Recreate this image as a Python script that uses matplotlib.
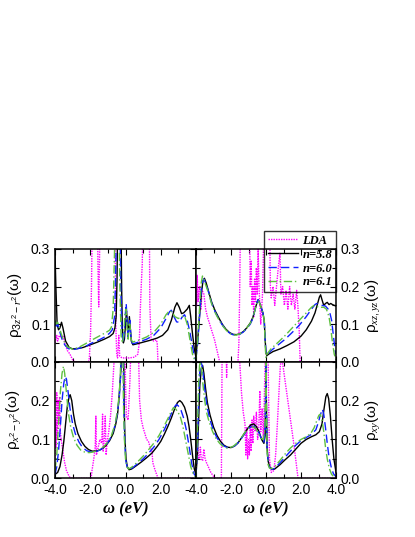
import numpy as np
import matplotlib
matplotlib.use('Agg')
import matplotlib.pyplot as plt
from matplotlib.ticker import MultipleLocator, FormatStrFormatter
from matplotlib.font_manager import FontProperties

plt.rcParams['font.family'] = ['Liberation Sans', 'DejaVu Sans']
plt.rcParams['mathtext.fontset'] = 'custom'
plt.rcParams['mathtext.rm'] = 'Liberation Sans'
plt.rcParams['mathtext.it'] = 'Liberation Serif:italic'
plt.rcParams['axes.unicode_minus'] = True

# ---- panel 3z^2-r^2 (top left) ----
tl_lda_x = [-4.0, -3.9, -3.85, -3.75, -3.65, -3.55, -3.45, -3.3, -3.15, -3.0, -2.9, -2.1, -2.05, -1.98, -1.93, -1.88,
            -1.6, -1.56, -1.52, -1.48, -1.44, -0.6, -0.55, -0.5, -0.45, -0.38, -0.33, -0.2, 0.2, 0.5, 0.7, 0.78,
            0.85, 0.9, 0.95, 1.0, 1.35, 1.38, 1.45, 1.6, 1.75, 1.8, 1.84, 4.0]
tl_lda_y = [0.05, 0.07, 0.055, 0.07, 0.065, 0.07, 0.05, 0.03, 0.02, 0.005, 0.0, 0.0, 0.01, 0.08, 0.2, 0.4,
            0.4, 0.25, 0.146, 0.25, 0.4, 0.4, 0.1, 0.02, 0.01, 0.07, 0.015, 0.01, 0.01, 0.012, 0.02, 0.05,
            0.15, 0.21, 0.26, 0.4, 0.4, 0.15, 0.06, 0.055, 0.058, 0.05, 0.0, 0.0]
tl_b58_x = [-4.0, -3.95, -3.88, -3.8, -3.72, -3.63, -3.55, -3.4, -3.2, -3.0, -2.7, -2.4, -2.0, -1.6, -1.2, -0.9,
            -0.7, -0.6, -0.53, -0.48, -0.44, -0.26, -0.22, -0.18, -0.12, -0.06, 0.0, 0.06, 0.12, 0.17, 0.22, 0.27,
            0.33, 0.42, 0.6, 1.0, 1.4, 1.8, 2.1, 2.4, 2.6, 2.8, 2.92, 3.05, 3.18, 3.3, 3.5, 3.62, 3.7, 3.8,
            3.9, 3.98]
tl_b58_y = [0.29, 0.2, 0.1, 0.085, 0.09, 0.105, 0.09, 0.055, 0.038, 0.034, 0.035, 0.038, 0.045, 0.052, 0.06, 0.067,
            0.075, 0.09, 0.12, 0.22, 0.4, 0.4, 0.2, 0.09, 0.05, 0.06, 0.1, 0.135, 0.09, 0.08, 0.12, 0.09,
            0.055, 0.045, 0.047, 0.052, 0.057, 0.063, 0.07, 0.085, 0.11, 0.145, 0.157, 0.145, 0.128, 0.13, 0.14, 0.15, 0.12, 0.075,
            0.035, 0.016]
tl_b60_x = [-4.0, -3.92, -3.85, -3.78, -3.7, -3.6, -3.45, -3.25, -3.0, -2.7, -2.3, -1.9, -1.5, -1.1, -0.9, -0.75,
            -0.62, -0.55, -0.5, -0.32, -0.27, -0.2, -0.14, -0.08, -0.02, 0.04, 0.1, 0.15, 0.2, 0.25, 0.3, 0.37,
            0.45, 0.8, 1.2, 1.6, 2.0, 2.3, 2.5, 2.6, 2.75, 2.9, 3.05, 3.2, 3.35, 3.5, 3.65, 3.8, 3.92, 4.0]
tl_b60_y = [0.1, 0.095, 0.1, 0.09, 0.075, 0.06, 0.045, 0.035, 0.032, 0.035, 0.04, 0.05, 0.058, 0.068, 0.076, 0.085,
            0.12, 0.25, 0.4, 0.4, 0.2, 0.08, 0.05, 0.07, 0.12, 0.155, 0.1, 0.06, 0.1, 0.11, 0.07, 0.05,
            0.048, 0.053, 0.06, 0.07, 0.09, 0.115, 0.133, 0.137, 0.12, 0.106, 0.105, 0.118, 0.125, 0.11, 0.08, 0.04, 0.01, 0.005]
tl_b61_x = [-4.0, -3.93, -3.85, -3.75, -3.65, -3.5, -3.3, -3.05, -2.7, -2.3, -1.9, -1.5, -1.1, -0.9, -0.8, -0.7,
            -0.62, -0.58, -0.38, -0.32, -0.25, -0.18, -0.1, -0.03, 0.03, 0.1, 0.15, 0.2, 0.25, 0.32, 0.4, 0.8,
            1.2, 1.6, 2.0, 2.3, 2.5, 2.65, 2.8, 3.0, 3.2, 3.35, 3.5, 3.65, 3.8, 3.92, 4.0]
tl_b61_y = [0.11, 0.1, 0.105, 0.09, 0.075, 0.055, 0.04, 0.034, 0.037, 0.047, 0.058, 0.068, 0.078, 0.084, 0.092, 0.14,
            0.3, 0.4, 0.4, 0.2, 0.07, 0.05, 0.07, 0.13, 0.14, 0.08, 0.06, 0.1, 0.1, 0.06, 0.052, 0.058,
            0.066, 0.078, 0.1, 0.125, 0.136, 0.132, 0.12, 0.115, 0.12, 0.122, 0.1, 0.06, 0.02, 0.005, 0.0]

# ---- panel xz,yz (top right) ----
tr_lda_x = [-4.0, -3.97, -3.93, -3.88, -3.83, -3.78, -3.72, -3.65, -3.55, -3.45, -3.35, -3.25, -3.15, -3.05, -2.95, -2.85,
            -2.75, -2.65, -1.6, -1.55, -1.5, -1.45, -0.95, -0.9, -0.85, -0.8, -0.75, -0.7, -0.65, -0.6, -0.55, -0.5,
            -0.45, -0.4, -0.3, -0.2, -0.1, 0.2, 0.25, 0.3, 0.4, 0.5, 0.6, 0.7, 0.8, 0.85, 0.95, 1.05,
            1.15, 1.25, 1.35, 1.45, 1.55, 1.65, 1.75, 1.82, 1.9, 1.95, 4.0]
tr_lda_y = [0.2, 0.15, 0.23, 0.16, 0.19, 0.2, 0.14, 0.19, 0.18, 0.14, 0.12, 0.105, 0.09, 0.075, 0.06, 0.04,
            0.02, 0.0, 0.0, 0.05, 0.2, 0.4, 0.4, 0.2, 0.27, 0.15, 0.2, 0.12, 0.22, 0.16, 0.25, 0.18,
            0.3, 0.2, 0.1, 0.18, 0.4, 0.4, 0.2, 0.17, 0.2, 0.15, 0.2, 0.25, 0.29, 0.18, 0.2, 0.15,
            0.19, 0.14, 0.2, 0.15, 0.18, 0.14, 0.19, 0.15, 0.08, 0.0, 0.0]
tr_b58_x = [-4.0, -3.9, -3.8, -3.7, -3.6, -3.52, -3.42, -3.3, -3.1, -2.9, -2.7, -2.5, -2.3, -2.1, -1.9, -1.7,
            -1.5, -1.3, -1.1, -0.9, -0.75, -0.62, -0.5, -0.45, -0.38, -0.28, -0.18, -0.1, -0.05, 0.0, 0.05, 0.15,
            0.4, 0.8, 1.2, 1.6, 2.0, 2.3, 2.6, 2.8, 2.95, 3.05, 3.12, 3.2, 3.3, 3.4, 3.5, 3.6, 3.7, 3.8,
            3.9, 4.0]
tr_b58_y = [0.02, 0.06, 0.12, 0.18, 0.215, 0.222, 0.21, 0.19, 0.158, 0.135, 0.117, 0.1, 0.087, 0.078, 0.073, 0.072,
            0.074, 0.08, 0.09, 0.103, 0.118, 0.14, 0.16, 0.165, 0.158, 0.145, 0.13, 0.11, 0.06, 0.022, 0.016, 0.02,
            0.027, 0.034, 0.043, 0.053, 0.068, 0.085, 0.108, 0.13, 0.155, 0.172, 0.178, 0.165, 0.15, 0.155, 0.158, 0.152, 0.155, 0.152,
            0.15, 0.148]
tr_b60_x = [-4.0, -3.9, -3.8, -3.7, -3.62, -3.55, -3.45, -3.3, -3.1, -2.9, -2.7, -2.5, -2.3, -2.1, -1.9, -1.7,
            -1.5, -1.3, -1.1, -0.9, -0.75, -0.62, -0.5, -0.45, -0.38, -0.28, -0.18, -0.1, -0.05, 0.0, 0.05, 0.3,
            0.7, 1.1, 1.5, 1.9, 2.3, 2.6, 2.8, 2.9, 3.05, 3.2, 3.4, 3.55, 3.65, 3.75, 3.85, 3.95, 4.0]
tr_b60_y = [0.01, 0.05, 0.12, 0.19, 0.215, 0.22, 0.21, 0.188, 0.155, 0.132, 0.114, 0.098, 0.086, 0.077, 0.072, 0.071,
            0.073, 0.079, 0.088, 0.1, 0.115, 0.14, 0.16, 0.165, 0.158, 0.145, 0.13, 0.11, 0.06, 0.022, 0.018, 0.03,
            0.045, 0.06, 0.078, 0.097, 0.12, 0.14, 0.152, 0.155, 0.152, 0.15, 0.148, 0.14, 0.13, 0.11, 0.07, 0.03, 0.02]
tr_b61_x = [-4.0, -3.9, -3.8, -3.7, -3.63, -3.55, -3.45, -3.3, -3.1, -2.9, -2.7, -2.5, -2.3, -2.1, -1.9, -1.7,
            -1.5, -1.3, -1.1, -0.9, -0.75, -0.62, -0.5, -0.45, -0.38, -0.28, -0.18, -0.1, -0.03, 0.0, 0.05, 0.3,
            0.7, 1.1, 1.5, 1.9, 2.3, 2.6, 2.75, 2.9, 3.1, 3.3, 3.45, 3.6, 3.7, 3.8, 3.9, 4.0]
tr_b61_y = [0.005, 0.06, 0.14, 0.21, 0.228, 0.22, 0.205, 0.185, 0.153, 0.13, 0.112, 0.097, 0.085, 0.076, 0.071, 0.071,
            0.074, 0.08, 0.09, 0.102, 0.117, 0.14, 0.16, 0.163, 0.158, 0.145, 0.13, 0.11, 0.03, 0.01, 0.02, 0.035,
            0.052, 0.07, 0.09, 0.11, 0.13, 0.145, 0.15, 0.147, 0.145, 0.145, 0.14, 0.12, 0.09, 0.05, 0.02, 0.005]

# ---- panel x^2-y^2 (bottom left) ----
bl_lda_x = [-4.0, -3.97, -3.94, -3.9, -3.86, -3.82, -3.78, -3.74, -3.7, -3.65, -3.55, -3.45, -3.35, -3.2, -3.1, -1.95,
            -1.9, -1.8, -1.72, -1.68, -1.65, -1.55, -1.45, -1.35, -1.3, -1.27, -1.2, -1.15, -1.1, -1.05, -0.95, -0.85,
            -0.75, -0.65, -0.6, -0.05, 0.0, 0.05, 0.15, 0.25, 0.35, 0.7, 0.8, 0.9, 1.0, 1.1, 1.2, 1.3,
            1.4, 1.5, 1.55, 1.65, 1.75, 1.85, 4.0]
bl_lda_y = [0.05, 0.15, 0.08, 0.22, 0.1, 0.2, 0.14, 0.21, 0.12, 0.1, 0.07, 0.04, 0.02, 0.005, 0.0, 0.0,
            0.02, 0.05, 0.08, 0.16, 0.06, 0.08, 0.1, 0.09, 0.165, 0.07, 0.1, 0.16, 0.06, 0.09, 0.12, 0.16,
            0.22, 0.3, 0.4, 0.4, 0.25, 0.16, 0.15, 0.25, 0.4, 0.4, 0.2, 0.15, 0.13, 0.115, 0.1, 0.095,
            0.08, 0.07, 0.04, 0.025, 0.012, 0.0, 0.0]
bl_b58_x = [-4.0, -3.85, -3.72, -3.6, -3.5, -3.4, -3.3, -3.2, -3.14, -3.05, -2.95, -2.85, -2.7, -2.5, -2.3, -2.1,
            -1.9, -1.7, -1.5, -1.3, -1.1, -0.9, -0.7, -0.55, -0.45, -0.38, -0.32, -0.26, -0.22, -0.12, -0.08, -0.03,
            0.03, 0.1, 0.2, 0.35, 0.6, 0.9, 1.2, 1.5, 1.8, 2.0, 2.2, 2.4, 2.6, 2.8, 2.95, 3.08, 3.2, 3.35,
            3.5, 3.6, 3.7, 3.8, 3.9, 4.0]
bl_b58_y = [0.01, 0.015, 0.03, 0.06, 0.095, 0.14, 0.185, 0.21, 0.215, 0.2, 0.165, 0.14, 0.115, 0.095, 0.082, 0.074,
            0.07, 0.07, 0.072, 0.077, 0.085, 0.097, 0.115, 0.14, 0.165, 0.2, 0.24, 0.28, 0.4, 0.4, 0.2, 0.1,
            0.05, 0.03, 0.022, 0.024, 0.032, 0.042, 0.053, 0.065, 0.082, 0.095, 0.113, 0.133, 0.155, 0.18, 0.195, 0.2, 0.195, 0.183,
            0.16, 0.135, 0.1, 0.06, 0.025, 0.008]
bl_b60_x = [-4.0, -3.9, -3.8, -3.7, -3.6, -3.5, -3.42, -3.35, -3.25, -3.15, -3.0, -2.85, -2.65, -2.45, -2.2, -2.0,
            -1.8, -1.6, -1.4, -1.2, -1.0, -0.8, -0.6, -0.45, -0.35, -0.28, -0.23, -0.14, -0.1, -0.05, 0.02, 0.1,
            0.2, 0.4, 0.7, 1.0, 1.3, 1.6, 1.9, 2.2, 2.45, 2.65, 2.8, 2.9, 3.0, 3.15, 3.3, 3.45, 3.6, 3.75,
            3.88, 4.0]
bl_b60_y = [0.01, 0.03, 0.07, 0.13, 0.2, 0.245, 0.262, 0.255, 0.22, 0.18, 0.14, 0.115, 0.094, 0.08, 0.071, 0.068,
            0.068, 0.07, 0.074, 0.081, 0.092, 0.108, 0.135, 0.17, 0.21, 0.26, 0.4, 0.4, 0.2, 0.1, 0.045, 0.028,
            0.023, 0.027, 0.038, 0.05, 0.064, 0.08, 0.1, 0.125, 0.15, 0.172, 0.185, 0.19, 0.186, 0.175, 0.155, 0.125, 0.085, 0.04,
            0.012, 0.004]
bl_b61_x = [-4.0, -3.9, -3.8, -3.7, -3.6, -3.52, -3.45, -3.35, -3.25, -3.1, -2.95, -2.75, -2.55, -2.3, -2.05, -1.8,
            -1.6, -1.4, -1.2, -1.0, -0.8, -0.6, -0.45, -0.35, -0.29, -0.25, -0.16, -0.12, -0.06, 0.0, 0.08, 0.18,
            0.4, 0.7, 1.0, 1.3, 1.6, 1.9, 2.2, 2.45, 2.6, 2.72, 2.82, 2.95, 3.1, 3.25, 3.4, 3.55, 3.7, 3.85,
            4.0]
bl_b61_y = [0.02, 0.06, 0.14, 0.22, 0.27, 0.288, 0.27, 0.22, 0.17, 0.13, 0.105, 0.085, 0.073, 0.067, 0.066, 0.068,
            0.071, 0.076, 0.083, 0.094, 0.11, 0.138, 0.175, 0.22, 0.27, 0.4, 0.4, 0.2, 0.1, 0.05, 0.03, 0.024,
            0.03, 0.043, 0.057, 0.073, 0.09, 0.11, 0.135, 0.158, 0.172, 0.182, 0.18, 0.172, 0.16, 0.135, 0.1, 0.065, 0.03, 0.01,
            0.002]

# ---- panel xy (bottom right) ----
br_lda_x = [-4.0, -3.95, -3.9, -3.85, -3.8, -3.75, -3.7, -3.62, -3.55, -3.48, -3.4, -3.3, -3.15, -3.0, -2.9, -2.55,
            -2.53, -2.5, -2.3, -2.25, -2.2, -1.6, -1.5, -1.4, -1.3, -1.2, -1.15, -1.1, -1.05, -1.0, -0.95, -0.9,
            -0.85, -0.8, -0.75, -0.7, -0.62, -0.55, -0.48, -0.42, -0.35, -0.3, -0.22, -0.15, -0.05, 0.0, 0.1, 0.15,
            0.2, 0.3, 0.45, 0.55, 0.65, 0.75, 0.82, 0.9, 1.0, 1.2, 1.4, 1.6, 1.75, 1.83, 4.0]
br_lda_y = [0.01, 0.06, 0.08, 0.05, 0.055, 0.08, 0.05, 0.045, 0.075, 0.05, 0.04, 0.03, 0.015, 0.005, 0.0, 0.0,
            0.15, 0.4, 0.4, 0.26, 0.4, 0.4, 0.3, 0.22, 0.17, 0.14, 0.06, 0.13, 0.05, 0.1, 0.06, 0.14,
            0.07, 0.15, 0.09, 0.16, 0.12, 0.17, 0.1, 0.12, 0.225, 0.12, 0.18, 0.1, 0.3, 0.4, 0.4, 0.2,
            0.05, 0.015, 0.02, 0.06, 0.14, 0.23, 0.29, 0.31, 0.28, 0.215, 0.15, 0.085, 0.03, 0.0, 0.0]
br_b58_x = [-4.0, -3.92, -3.85, -3.78, -3.7, -3.62, -3.55, -3.45, -3.35, -3.2, -3.0, -2.8, -2.6, -2.4, -2.2, -2.0,
            -1.8, -1.6, -1.4, -1.2, -1.0, -0.85, -0.7, -0.55, -0.4, -0.25, -0.12, -0.05, -0.02, 0.0, 0.02, 0.06,
            0.12, 0.2, 0.35, 0.5, 0.8, 1.1, 1.4, 1.7, 2.0, 2.3, 2.6, 2.85, 3.05, 3.2, 3.32, 3.42, 3.5, 3.58,
            3.68, 3.78, 3.88, 4.0]
br_b58_y = [0.01, 0.06, 0.15, 0.24, 0.28, 0.29, 0.27, 0.23, 0.195, 0.163, 0.132, 0.11, 0.095, 0.085, 0.08, 0.079,
            0.083, 0.091, 0.104, 0.118, 0.131, 0.138, 0.14, 0.133, 0.12, 0.1, 0.09, 0.11, 0.2, 0.32, 0.2, 0.08,
            0.045, 0.03, 0.023, 0.024, 0.035, 0.048, 0.06, 0.075, 0.09, 0.1, 0.107, 0.112, 0.12, 0.14, 0.18, 0.21, 0.218, 0.205,
            0.16, 0.1, 0.05, 0.015]
br_b60_x = [-4.0, -3.92, -3.85, -3.78, -3.72, -3.65, -3.55, -3.45, -3.35, -3.2, -3.0, -2.8, -2.6, -2.4, -2.2, -2.0,
            -1.8, -1.6, -1.4, -1.2, -1.0, -0.85, -0.7, -0.55, -0.4, -0.25, -0.12, -0.05, -0.02, 0.0, 0.02, 0.06,
            0.12, 0.2, 0.35, 0.5, 0.8, 1.1, 1.4, 1.7, 2.0, 2.3, 2.6, 2.85, 3.0, 3.12, 3.22, 3.3, 3.4, 3.5,
            3.6, 3.72, 3.85, 4.0]
br_b60_y = [0.005, 0.08, 0.2, 0.28, 0.3, 0.29, 0.25, 0.21, 0.18, 0.15, 0.123, 0.104, 0.091, 0.083, 0.079, 0.079,
            0.083, 0.091, 0.103, 0.116, 0.128, 0.133, 0.134, 0.128, 0.117, 0.1, 0.093, 0.12, 0.22, 0.32, 0.2, 0.08,
            0.04, 0.028, 0.023, 0.026, 0.04, 0.055, 0.07, 0.085, 0.097, 0.105, 0.113, 0.125, 0.145, 0.165, 0.178, 0.165, 0.13, 0.09,
            0.055, 0.03, 0.012, 0.004]
br_b61_x = [-4.0, -3.92, -3.85, -3.8, -3.75, -3.68, -3.6, -3.5, -3.4, -3.25, -3.05, -2.85, -2.65, -2.45, -2.25, -2.05,
            -1.85, -1.65, -1.45, -1.25, -1.05, -0.9, -0.75, -0.6, -0.45, -0.3, -0.15, -0.06, -0.02, 0.0, 0.02, 0.06,
            0.12, 0.2, 0.35, 0.5, 0.8, 1.1, 1.4, 1.7, 2.0, 2.3, 2.55, 2.75, 2.9, 3.02, 3.1, 3.2, 3.3, 3.4,
            3.5, 3.62, 3.75, 3.9, 4.0]
br_b61_y = [0.0, 0.12, 0.24, 0.29, 0.3, 0.28, 0.24, 0.2, 0.17, 0.145, 0.12, 0.102, 0.09, 0.082, 0.078, 0.079,
            0.083, 0.091, 0.102, 0.115, 0.127, 0.132, 0.133, 0.128, 0.118, 0.103, 0.1, 0.13, 0.25, 0.32, 0.2, 0.07,
            0.035, 0.026, 0.025, 0.03, 0.046, 0.063, 0.078, 0.09, 0.1, 0.107, 0.115, 0.13, 0.148, 0.162, 0.165, 0.15, 0.12, 0.08,
            0.05, 0.025, 0.01, 0.003, 0.0]

labels = ['LDA', 'n=5.8', 'n=6.0', 'n=6.1']

fig = plt.figure(figsize=(4.15, 5.37), dpi=100)
W, H = 415.0, 537.0
ax_tl = fig.add_axes([55 / W, 1 - 361.7 / H, 141 / W, 112.7 / H])
ax_tr = fig.add_axes([196 / W, 1 - 361.7 / H, 140 / W, 112.7 / H])
ax_bl = fig.add_axes([55 / W, 1 - 478.3 / H, 141 / W, 116.6 / H])
ax_br = fig.add_axes([196 / W, 1 - 478.3 / H, 140 / W, 116.6 / H])

panels = [
    (ax_tl, (tl_lda_x, tl_lda_y), (tl_b58_x, tl_b58_y), (tl_b60_x, tl_b60_y), (tl_b61_x, tl_b61_y)),
    (ax_tr, (tr_lda_x, tr_lda_y), (tr_b58_x, tr_b58_y), (tr_b60_x, tr_b60_y), (tr_b61_x, tr_b61_y)),
    (ax_bl, (bl_lda_x, bl_lda_y), (bl_b58_x, bl_b58_y), (bl_b60_x, bl_b60_y), (bl_b61_x, bl_b61_y)),
    (ax_br, (br_lda_x, br_lda_y), (br_b58_x, br_b58_y), (br_b60_x, br_b60_y), (br_b61_x, br_b61_y)),
]

green = '#5ec040'
for ax, lda, b58, b60, b61 in panels:
    ax.plot(lda[0], lda[1], color='#ff00ff', lw=1.0, ls=(0, (1, 0.8)))
    ax.plot(b58[0], b58[1], color='black', lw=1.0)
    ax.plot(b60[0], b60[1], color='#1020ff', lw=1.0, ls=(0, (6, 3)))
    ax.plot(b61[0], b61[1], color=green, lw=1.0, ls=(0, (6, 2, 1, 2)))
    ax.set_xlim(-4, 4)
    ax.set_ylim(0, 0.3)
    ax.xaxis.set_major_locator(MultipleLocator(2))
    ax.xaxis.set_minor_locator(MultipleLocator(1))
    ax.yaxis.set_major_locator(MultipleLocator(0.1))
    ax.yaxis.set_minor_locator(MultipleLocator(0.05))
    ax.xaxis.set_major_formatter(FormatStrFormatter('%.1f'))
    ax.yaxis.set_major_formatter(FormatStrFormatter('%.1f'))
    ax.tick_params(which='both', direction='in', top=True, bottom=True, left=True, right=True, labelsize=10)
    ax.tick_params(which='major', length=4, width=0.8)
    ax.tick_params(which='minor', length=3, width=0.8)
    for s in ax.spines.values():
        s.set_linewidth(1.1)

# top panels: no x labels
ax_tl.tick_params(labelbottom=False)
ax_tr.tick_params(labelbottom=False)
# right panels: y labels on the right
for ax in (ax_tr, ax_br):
    ax.tick_params(labelleft=False, labelright=True)
    ax.yaxis.set_label_position('right')
# bottom panels: no 0.3 label
ax_bl.set_yticks([0.0, 0.1, 0.2])
ax_br.set_yticks([0.0, 0.1, 0.2])
ax_bl.set_xticks([-4, -2, 0, 2])

lab_font = dict(fontsize=11)
ax_tl.set_ylabel(r'$\mathrm{\rho}_{3z^2-r^2}\mathrm{(\omega)}$', **lab_font)
ax_bl.set_ylabel(r'$\mathrm{\rho}_{x^2-y^2}\mathrm{(\omega)}$', **lab_font)
ax_tr.set_ylabel(r'$\mathrm{\rho}_{xz,yz}\mathrm{(\omega)}$', **lab_font)
ax_br.set_ylabel(r'$\mathrm{\rho}_{xy}\mathrm{(\omega)}$', **lab_font)
ax_tl.yaxis.set_label_coords(-0.22, 0.5)
ax_bl.yaxis.set_label_coords(-0.22, 0.5)
ax_tr.yaxis.set_label_coords(1.2, 0.5)
ax_br.yaxis.set_label_coords(1.2, 0.5)

xl_font = dict(family=['Liberation Serif', 'DejaVu Serif'], style='italic', weight='bold', size=12)
ax_bl.set_xlabel('ω (eV)', fontdict=xl_font, labelpad=3)
ax_br.set_xlabel('ω (eV)', fontdict=xl_font, labelpad=3)

handles = ax_tr.get_lines()
leg = fig.legend(handles, labels, loc='upper right', bbox_to_anchor=(336 / W, 1 - 231 / H),
                 bbox_transform=fig.transFigure, frameon=True, fancybox=False,
                 edgecolor='black', facecolor='none', borderaxespad=0,
                 prop=FontProperties(family='Liberation Serif', style='italic', weight='bold', size=9),
                 handlelength=2.4, handletextpad=0.4, labelspacing=0.15, borderpad=0.3)
leg.get_frame().set_linewidth(1.0)

fig.savefig('out.png', dpi=100)
